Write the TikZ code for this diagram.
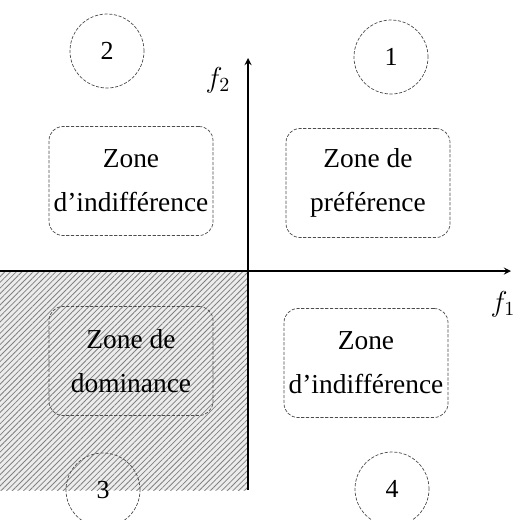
\documentclass[tikz,border=0pt]{standalone}
\usepackage{fontspec}
\setmainfont{Liberation Serif}
\usetikzlibrary{patterns.meta}

\begin{document}
\begin{tikzpicture}[
        x=0.5pt, y=-0.5pt,
        zonebox/.style={draw=black!70, dash pattern=on 1.6pt off 0.8pt, line width=0.35pt, rounded corners=7pt, minimum width=82pt, minimum height=54.5pt, inner xsep=1pt, align=center, font=\fontsize{13.7}{22}\selectfont},
        numcircle/.style={circle, draw=black!70, dash pattern=on 1.6pt off 0.8pt, line width=0.35pt, minimum size=37pt, inner sep=0pt, font=\fontsize{13}{15}\selectfont},
        axis/.style={->, >=stealth, semithick}
    ]
        \useasboundingbox (0,0) rectangle (514,520);

        % dominance area
        \fill[gray!15] (0,271) rectangle (248,490);
        \fill[pattern={Lines[angle=45, distance=2pt, line width=0.4pt]}, pattern color=black!50] (0,271) rectangle (248,490);

        \coordinate (O) at (248,271);
        \coordinate (xend) at (511,271);
        \coordinate (xstart) at (0,271);
        \coordinate (yend) at (248,58);
        \coordinate (ystart) at (248,490);

        \draw[axis] (xstart) -- (xend);
        \draw[axis] (ystart) -- (yend);
        \node[font=\Large] (f1) at (503,304) {$f_1$};
        \node[font=\Large] (f2) at (218,80) {$f_2$};

        \node[zonebox, fill=white] (indiffA) at (131,181) {Zone\\d’indifférence};
        \node[zonebox, fill=white] (pref) at (368,183) {Zone de\\préférence};
        \node[zonebox] (domin) at (131,361) {Zone de\\dominance};
        \node[zonebox, fill=white] (indiffB) at (366,363) {Zone\\d’indifférence};

        \node[numcircle] (c2) at (107,51) {2};
        \node[numcircle] (c1) at (391,57) {1};
        \node[numcircle] (c3) at (103,490) {3};
        \node[numcircle] (c4) at (392,489) {4};
    \end{tikzpicture}
\end{document}
